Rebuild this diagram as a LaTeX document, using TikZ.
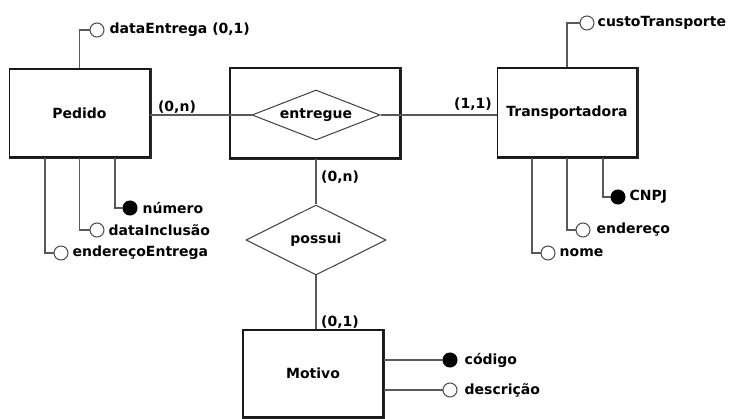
\documentclass[tikz,border=0pt]{standalone}
\usepackage{fontspec}
\setmainfont{DejaVu Sans}
\usetikzlibrary{shapes.geometric}
\begin{document}
\begin{tikzpicture}[x=1pt,y=-1pt,
  every node/.style={font=\fontsize{14}{16}\selectfont\bfseries},
  entity/.style={draw=black!90,line width=1.4pt,fill=white,rectangle,inner sep=0pt},
  rel/.style={draw=black!75,line width=1pt,diamond,aspect=2.5,inner sep=0pt,fill=white},
  conn/.style={draw=black!65,line width=1.2pt},
  shadowline/.style={draw=black!85,line width=1.4pt},
  attro/.style={circle,draw=black!70,fill=white,line width=1pt,minimum size=14pt,inner sep=0pt},
  attrf/.style={circle,draw=black,fill=black,line width=1pt,minimum size=14pt,inner sep=0pt},
  lbl/.style={anchor=west,inner sep=0pt},
  card/.style={inner sep=0pt}]
\useasboundingbox (0,0) rectangle (729,419);
% entities
\node[entity,minimum width=140pt,minimum height=88pt] (pedido) at (79.5,113) {Pedido};
\node[entity,minimum width=170pt,minimum height=90pt] (entbox) at (315,113) {};
\node[entity,minimum width=139pt,minimum height=89pt] (transp) at (567,112.5) {Transportadora};
\node[entity,minimum width=140pt,minimum height=87pt] (motivo) at (313,373.5) {Motivo};
\foreach \n in {pedido,entbox,transp,motivo}
  \draw[shadowline] ([xshift=0.7pt]\n.north east) -- ([xshift=0.7pt,yshift=-0.7pt]\n.south east) -- ([yshift=-0.7pt]\n.south west);
% relationships
\node[rel,minimum width=128pt,minimum height=50pt] (ent) at (316,115) {entregue};
\node[rel,minimum width=140pt,minimum height=70pt] (pos) at (316,240) {possui};
% relationship connectors
\draw[conn] (pedido.east |- ent.west) -- (ent.west);
\draw[conn] (ent.east) -- (transp.west |- ent.east);
\draw[conn] (pos.north |- entbox.south) -- (pos.north);
\draw[conn] (pos.south) -- (pos.south |- motivo.north);
% cardinalities
\node[card] (c1) at (177,107) {(0,n)};
\node[card] (c2) at (473,104) {(1,1)};
\node[card,anchor=west] (c3) at (321,177) {(0,n)};
\node[card,anchor=west] (c4) at (321,322) {(0,1)};
% Pedido attributes
\node[attro] (pa1) at (97,30) {};
\node[lbl] (pt1) at ([xshift=5pt]pa1.east) {dataEntrega (0,1)};
\draw[conn] (pedido.north) |- (pa1.west);
\node[attrf] (pa2) at (130,208) {};
\node[lbl] (pt2) at ([xshift=5pt]pa2.east) {número};
\draw[conn] ([xshift=35.5pt]pedido.south) |- (pa2.west);
\node[attro] (pa3) at (97,230) {};
\node[lbl] (pt3) at ([xshift=4pt]pa3.east) {dataInclusão};
\draw[conn] (pedido.south) |- (pa3.west);
\node[attro] (pa4) at (61,253) {};
\node[lbl] (pt4) at ([xshift=4pt]pa4.east) {endereçoEntrega};
\draw[conn] ([xshift=-34.5pt]pedido.south) |- (pa4.west);
% Transportadora attributes
\node[attro] (ta1) at (587,23) {};
\node[lbl] (tt1) at ([xshift=3pt]ta1.east) {custoTransporte};
\draw[conn] (transp.north) |- (ta1.west);
\node[attrf] (ta2) at (618,197) {};
\node[lbl] (tt2) at ([xshift=4pt]ta2.east) {CNPJ};
\draw[conn] ([xshift=36pt]transp.south) |- (ta2.west);
\node[attro] (ta3) at (583,230) {};
\node[lbl] (tt3) at ([xshift=6pt]ta3.east) {endereço};
\draw[conn] (transp.south) |- (ta3.west);
\node[attro] (ta4) at (548,253) {};
\node[lbl] (tt4) at ([xshift=4pt]ta4.east) {nome};
\draw[conn] ([xshift=-35pt]transp.south) |- (ta4.west);
% Motivo attributes
\node[attrf] (ma1) at (450,360) {};
\node[lbl] (mt1) at ([xshift=7pt]ma1.east) {código};
\draw[conn] (motivo.east |- ma1.west) -- (ma1.west);
\node[attro] (ma2) at (450,390) {};
\node[lbl] (mt2) at ([xshift=7pt]ma2.east) {descrição};
\draw[conn] (motivo.east |- ma2.west) -- (ma2.west);
\end{tikzpicture}
\end{document}
